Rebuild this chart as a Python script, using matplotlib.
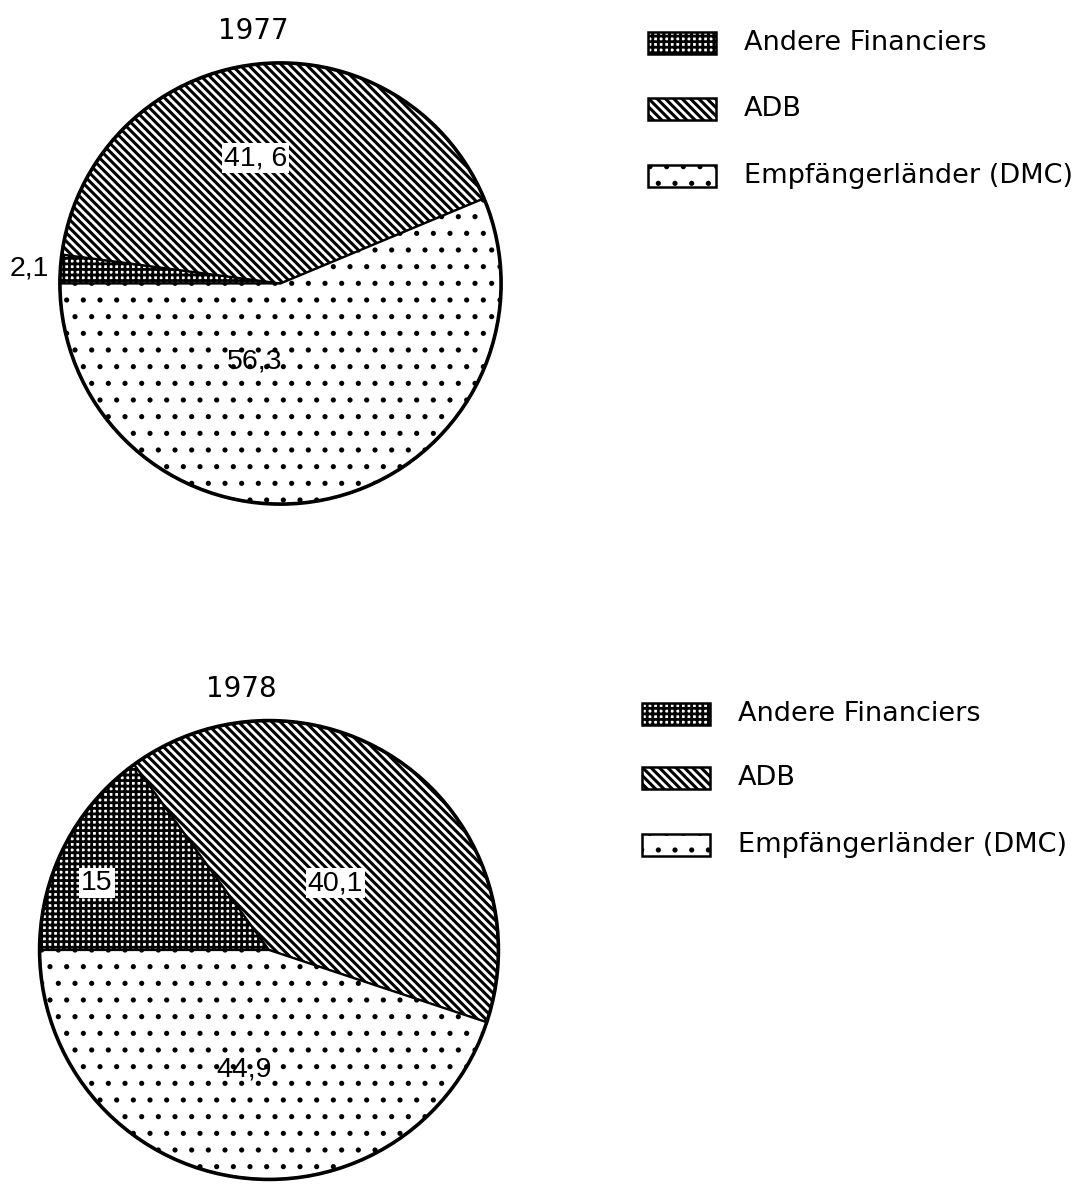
import matplotlib
matplotlib.use("Agg")
import matplotlib.pyplot as plt
from matplotlib.patches import Rectangle

# shares of financing (%)
years = ["1977", "1978"]
categories = ["Andere Financiers", "ADB", "Empfängerländer (DMC)"]
shares_1977 = [2.1, 41.6, 56.3]
shares_1978 = [15, 40.1, 44.9]
labels_1977 = ["2,1", "41, 6", "56,3"]
labels_1978 = ["15", "40,1", "44,9"]

BS = chr(92)
hatches = ["+++", BS * 4, "."]
hatch_lw = [2.0, 2.2, 1.3]

NUM_FONT = ["Liberation Sans", "DejaVu Sans"]

W, H = 1074, 1187
fig = plt.figure(figsize=(W / 100, H / 100), dpi=100)
fig.patch.set_facecolor("white")


def px_axes(cx, cy, r):
    return fig.add_axes([(cx - r) / W, 1 - (cy + r) / H, 2 * r / W, 2 * r / H])


def set_hlw(p, lw):
    try:
        p.set_hatch_linewidth(lw)
    except AttributeError:
        p._hatch_linewidth = lw


def draw_pie(ax, shares, labels, label_pos, label_box, title):
    wedges, _ = ax.pie(shares, startangle=180, counterclock=False,
                       colors=["white"] * 3,
                       wedgeprops=dict(edgecolor="black", linewidth=1.6))
    for w, h, lw in zip(wedges, hatches, hatch_lw):
        w.set_hatch(h)
        set_hlw(w, lw)
    circ = plt.Circle((0, 0), 1, fill=False, lw=2.6, color="black")
    ax.add_patch(circ)
    for txt, (x, y), box in zip(labels, label_pos, label_box):
        bbox = dict(facecolor="white", edgecolor="none", pad=1.5) if box else None
        ax.text(x, y, txt, ha="center", va="center", fontsize=20.5,
                family=NUM_FONT, bbox=bbox)
    ax.set_xlim(-1.02, 1.02)
    ax.set_ylim(-1.02, 1.02)
    ax.set_aspect("auto")
    ax.axis("off")
    ax.set_title(title, fontsize=20, pad=14, x=0.44)


ax1 = px_axes(280.5, 283.5, 225)
draw_pie(ax1, shares_1977, labels_1977,
         [(-1.14, 0.07), (-0.115, 0.568), (-0.115, -0.355)],
         [False, True, False], years[0])

ax2 = px_axes(269, 950, 234)
draw_pie(ax2, shares_1978, labels_1978,
         [(-0.75, 0.29), (0.29, 0.29), (-0.11, -0.52)],
         [True, True, False], years[1])


def draw_legend(x0, ys):
    for cat, h, lw, y in zip(categories, hatches, hatch_lw, ys):
        r = Rectangle((x0 / W, 1 - (y + 11) / H), 68 / W, 22 / H,
                      transform=fig.transFigure, facecolor="white",
                      edgecolor="black", lw=1.8, hatch=h)
        set_hlw(r, lw)
        fig.patches.append(r)
        fig.text((x0 + 96) / W, 1 - y / H, cat, fontsize=19.5,
                 ha="left", va="center")


draw_legend(648, [43, 109, 176])
draw_legend(642, [714, 778, 845])

fig.savefig("out.png", dpi=100, facecolor="white")
